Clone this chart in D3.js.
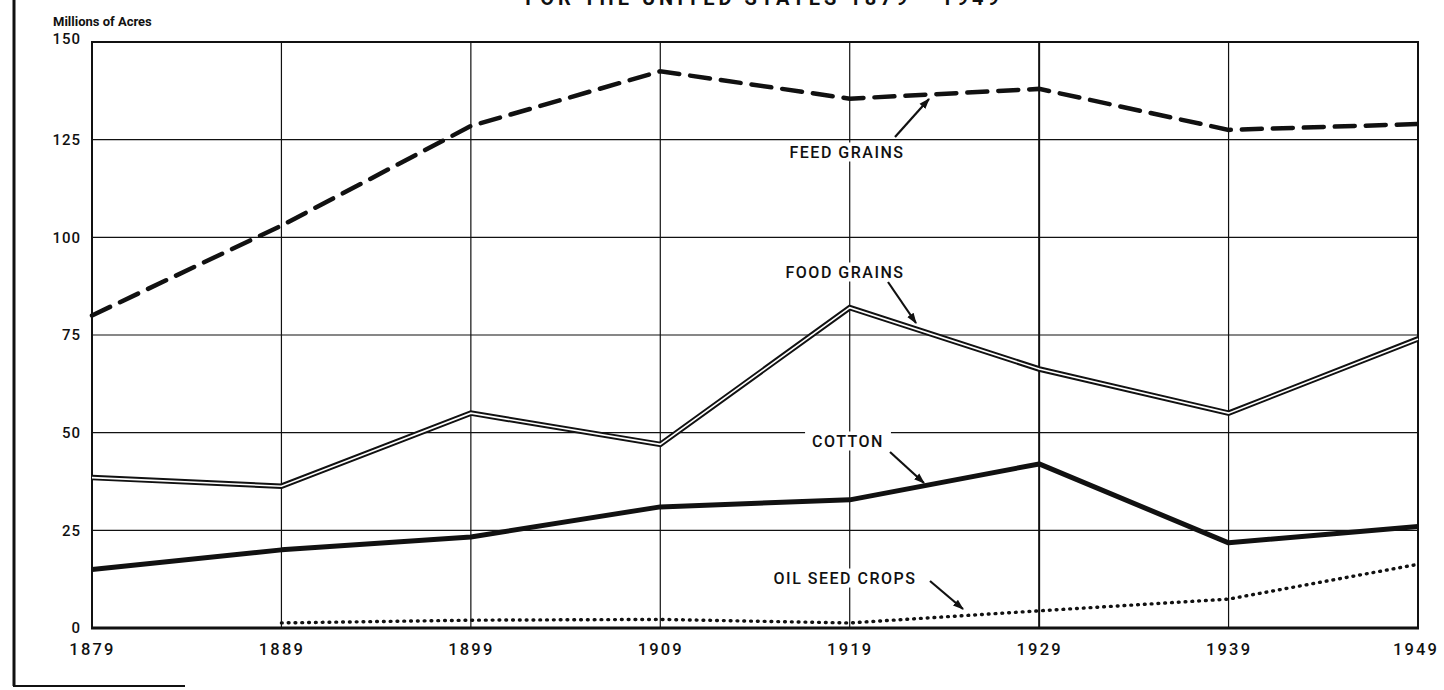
<!DOCTYPE html>
<html>
<head>
<meta charset="utf-8">
<script src="https://cdn.jsdelivr.net/npm/d3@7"></script>
<style>
  html, body { margin: 0; padding: 0; background: #fff; }
  svg { display: block; }
  text { font-family: Roboto, "Liberation Sans", Arial, sans-serif; fill: #111; }
</style>
</head>
<body>
<svg id="chart" width="1444" height="690"></svg>
<script>
// Census years and harvested acreage (millions of acres)
const years = [1879, 1889, 1899, 1909, 1919, 1929, 1939, 1949];
const feedGrains = [80, 103, 128.5, 142.5, 135.5, 138, 127.5, 129];
const foodGrains = [38.5, 36.3, 55, 47, 82, 66.3, 55, 74];
const cotton = [15, 20, 23.3, 31, 32.8, 42, 21.8, 26];
const oilSeedYears = [1889, 1899, 1909, 1919, 1929, 1939, 1949];
const oilSeed = [1.3, 2, 2.2, 1.3, 4.4, 7.4, 16.3];
const yTicks = [0, 25, 50, 75, 100, 125, 150];

const FONT = "Roboto, 'Liberation Sans', Arial, sans-serif";
const svg = d3.select("#chart");
const W = 1444;
const margin = { left: 92, right: 26, top: 42, bottom: 62 };
const x = d3.scaleLinear().domain([1879, 1949]).range([margin.left, W - margin.right]);
const y = d3.scaleLinear().domain([0, 150]).range([690 - margin.bottom, margin.top]);

// Title (runs off the top of the page)
svg.append("text")
  .attr("x", 764).attr("y", 5)
  .attr("text-anchor", "middle")
  .style("font-size", "20px").style("font-weight", "bold").style("letter-spacing", "4px")
  .text("FOR THE UNITED STATES  1879 - 1949");

// Outer page border on the left and bottom-left
svg.append("line").attr("x1", 14).attr("x2", 14).attr("y1", 0).attr("y2", 686)
  .attr("stroke", "#111").attr("stroke-width", 3);
svg.append("line").attr("x1", 13).attr("x2", 185).attr("y1", 686).attr("y2", 686)
  .attr("stroke", "#111").attr("stroke-width", 2);

// Grid
const grid = svg.append("g");
grid.selectAll("line.h").data(yTicks.filter(d => d > 0 && d < 150)).join("line")
  .attr("x1", x(1879)).attr("x2", x(1949))
  .attr("y1", d => y(d)).attr("y2", d => y(d))
  .attr("stroke", "#111").attr("stroke-width", 1.2);
grid.selectAll("line.v").data(years).join("line")
  .attr("x1", d => x(d)).attr("x2", d => x(d))
  .attr("y1", y(150)).attr("y2", y(0))
  .attr("stroke", "#111")
  .attr("stroke-width", d => (d === 1879 || d === 1949 || d === 1929) ? 2 : 1.2);
// Frame top and baseline
svg.append("line").attr("x1", x(1879) - 1).attr("x2", x(1949) + 1).attr("y1", y(150)).attr("y2", y(150))
  .attr("stroke", "#111").attr("stroke-width", 2);
svg.append("line").attr("x1", x(1879) - 1).attr("x2", x(1949) + 1).attr("y1", y(0)).attr("y2", y(0))
  .attr("stroke", "#111").attr("stroke-width", 3);

// Axes
const yAxis = svg.append("g").attr("transform", `translate(${x(1879)},0)`)
  .call(d3.axisLeft(y).tickValues(yTicks).tickSize(0).tickPadding(11).tickFormat(d3.format("d")));
yAxis.select(".domain").remove();
yAxis.selectAll("text").style("font-size", "15px").style("font-weight", "500").style("letter-spacing", "1px")
  .style("font-family", FONT).attr("fill", "#111");
yAxis.selectAll(".tick").filter(d => d === 150).select("text").attr("dy", "0.1em");

const xAxis = svg.append("g").attr("transform", `translate(0,${y(0)})`)
  .call(d3.axisBottom(x).tickValues(years).tickSize(0).tickPadding(15).tickFormat(d3.format("d")));
xAxis.select(".domain").remove();
xAxis.selectAll("text").style("font-size", "16.5px").style("font-weight", "500").style("letter-spacing", "2.2px")
  .style("font-family", FONT).attr("fill", "#111");
xAxis.selectAll(".tick").filter(d => d === 1949).select("text").attr("dx", "-0.15em");

svg.append("text").attr("x", 53).attr("y", 26)
  .style("font-size", "13px").style("font-weight", "bold")
  .text("Millions of Acres");

// Series lines
const line = d3.line().x(d => x(d[0])).y(d => y(d[1]));
const zip = (a, b) => a.map((v, i) => [v, b[i]]);

// Oil seed crops: dotted
svg.append("path").datum(zip(oilSeedYears, oilSeed)).attr("d", line)
  .attr("fill", "none").attr("stroke", "#111").attr("stroke-width", 3.4)
  .attr("stroke-linecap", "round").attr("stroke-dasharray", "0.8,6");

// Cotton: heavy solid
svg.append("path").datum(zip(years, cotton)).attr("d", line)
  .attr("fill", "none").attr("stroke", "#111").attr("stroke-width", 5)
  .attr("stroke-linejoin", "round");

// Food grains: double line
const foodPts = zip(years, foodGrains);
svg.append("path").datum(foodPts).attr("d", line)
  .attr("fill", "none").attr("stroke", "#111").attr("stroke-width", 5.5)
  .attr("stroke-linejoin", "miter");
svg.append("path").datum(foodPts).attr("d", line)
  .attr("fill", "none").attr("stroke", "#fff").attr("stroke-width", 1.6)
  .attr("stroke-linejoin", "miter");

// Feed grains: long dashes
svg.append("path").datum(zip(years, feedGrains)).attr("d", line)
  .attr("fill", "none").attr("stroke", "#111").attr("stroke-width", 4.5)
  .attr("stroke-linecap", "round").attr("stroke-dasharray", "20,11");

// Series labels with pointer arrows
svg.append("defs").append("marker")
  .attr("id", "arrow").attr("viewBox", "0 0 10 10").attr("refX", 9).attr("refY", 5)
  .attr("markerWidth", 5).attr("markerHeight", 5).attr("orient", "auto")
  .attr("markerUnits", "strokeWidth")
  .append("path").attr("d", "M0,1.5 L10,5 L0,8.5 Z").attr("fill", "#111");

const labels = [
  { text: "FEED GRAINS", cx: 847, cy: 152, from: [895, 137], to: [929, 99] },
  { text: "FOOD GRAINS", cx: 845, cy: 272, from: [888, 282], to: [916, 323] },
  { text: "COTTON", cx: 848, cy: 441, from: [890, 452], to: [924, 483] },
  { text: "OIL SEED CROPS", cx: 845, cy: 578, from: [930, 581], to: [963, 609] }
];
const lg = svg.append("g");
labels.forEach(l => {
  const t = lg.append("text").attr("x", l.cx).attr("y", l.cy)
    .attr("text-anchor", "middle").attr("dominant-baseline", "central")
    .style("font-size", "16px").style("font-weight", "500").style("letter-spacing", "1.5px")
    .text(l.text);
  const b = t.node().getBBox();
  lg.insert("rect", () => t.node())
    .attr("x", b.x - 7).attr("y", b.y).attr("width", b.width + 14).attr("height", b.height)
    .attr("fill", "#fff");
  lg.append("line")
    .attr("x1", l.from[0]).attr("y1", l.from[1]).attr("x2", l.to[0]).attr("y2", l.to[1])
    .attr("stroke", "#111").attr("stroke-width", 2.2).attr("marker-end", "url(#arrow)");
});
</script>
</body>
</html>
